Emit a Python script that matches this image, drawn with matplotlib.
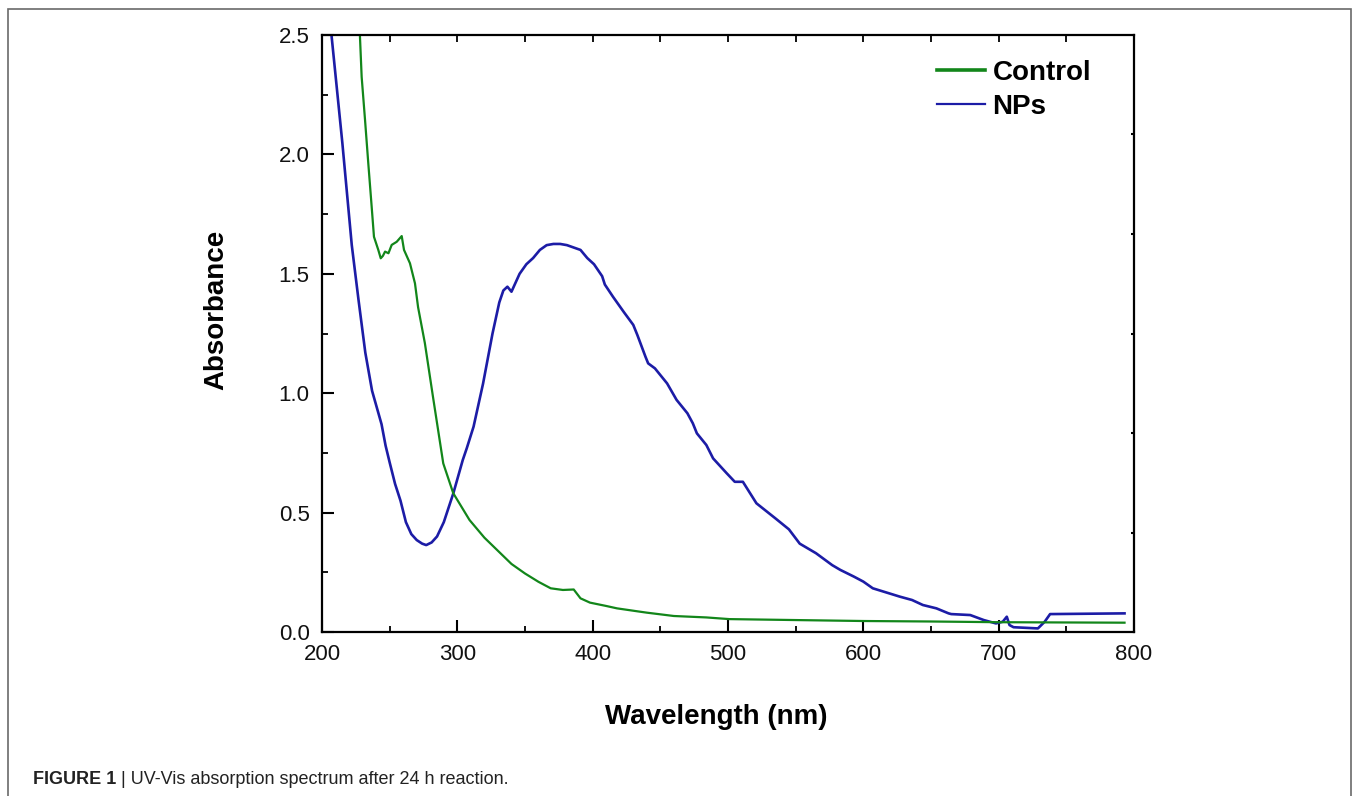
import matplotlib
matplotlib.use("Agg")
import matplotlib.pyplot as plt
from matplotlib.lines import Line2D
from matplotlib.patches import Rectangle
from matplotlib.ticker import MultipleLocator, FixedLocator

# ---------------- data ----------------
nps_wl = [200, 207, 215, 222, 227, 232, 237, 241, 244, 247, 250, 254, 258, 262,
          266, 270, 274, 277, 281, 285, 290, 297, 304, 307, 312, 319, 326, 331,
          334, 337, 340, 346, 351, 356, 361, 366, 371, 376, 381, 386, 391, 396,
          401, 407, 409, 415, 423, 430, 433, 439, 441, 446, 455, 462, 470, 474,
          477, 484, 489, 499, 505, 511, 521, 535, 545, 553, 565, 577, 583, 593,
          600, 607, 615, 627, 636, 644, 654, 663, 665, 679, 689, 698, 703, 706,
          708, 711, 729, 734, 738, 793]
nps_abs = [2.87, 2.50, 2.05, 1.62, 1.39, 1.17, 1.01, 0.93, 0.87, 0.78, 0.71, 0.62,
           0.55, 0.46, 0.41, 0.385, 0.37, 0.364, 0.375, 0.40, 0.46, 0.58, 0.72,
           0.77, 0.86, 1.04, 1.25, 1.38, 1.43, 1.446, 1.425, 1.50, 1.54, 1.566,
           1.60, 1.62, 1.625, 1.625, 1.62, 1.61, 1.60, 1.566, 1.54, 1.49, 1.455,
           1.404, 1.34, 1.286, 1.244, 1.153, 1.125, 1.104, 1.041, 0.972, 0.916,
           0.874, 0.832, 0.783, 0.727, 0.665, 0.629, 0.629, 0.539, 0.476, 0.43,
           0.37, 0.33, 0.28, 0.26, 0.232, 0.211, 0.183, 0.169, 0.148, 0.134,
           0.113, 0.099, 0.078, 0.075, 0.071, 0.050, 0.036, 0.043, 0.064, 0.029,
           0.020, 0.015, 0.043, 0.075, 0.078]

ctrl_wl = [222, 228, 229.3, 231.8, 234.2, 236.7, 238.4, 241.6, 243.4, 245, 246.6,
           249.1, 251.5, 255.2, 258.9, 260.6, 265, 268.7, 271, 276, 282, 289.6,
           297, 309, 320, 330, 340, 350, 360, 369, 378, 386, 391, 398, 410, 418,
           435, 440, 460, 484, 501, 550, 600, 650, 700, 793]
ctrl_abs = [3.3, 2.50, 2.325, 2.144, 1.963, 1.781, 1.655, 1.600, 1.565, 1.575,
            1.593, 1.586, 1.621, 1.634, 1.658, 1.600, 1.544, 1.46, 1.36, 1.21,
            0.985, 0.706, 0.581, 0.469, 0.395, 0.34, 0.285, 0.245, 0.21, 0.183,
            0.176, 0.178, 0.141, 0.123, 0.109, 0.099, 0.085, 0.081, 0.067, 0.061,
            0.054, 0.050, 0.046, 0.044, 0.041, 0.039]

series_labels = ["Control", "NPs"]
x_ticks = [200, 300, 400, 500, 600, 700, 800]
y_ticks = [0.0, 0.5, 1.0, 1.5, 2.0, 2.5]
caption_bold = "FIGURE 1"
caption_rest = " | UV-Vis absorption spectrum after 24 h reaction."

GREEN = "#12861a"
BLUE = "#1c1ca6"

# ---------------- figure ----------------
W, H, DPI = 1358, 796, 100
fig = plt.figure(figsize=(W / DPI, H / DPI), dpi=DPI)
plt.rcParams["font.family"] = ["Liberation Sans", "DejaVu Sans"]

def fx(px):
    return px / W

def fy(py):
    return 1 - py / H

L, R, T, B = 322, 1134, 35, 632
ax = fig.add_axes([fx(L), fy(B), fx(R) - fx(L), fy(T) - fy(B)])

ax.plot(nps_wl, nps_abs, color=BLUE, lw=1.9, solid_joinstyle="round")
ax.plot(ctrl_wl, ctrl_abs, color=GREEN, lw=1.6, solid_joinstyle="round")

ax.set_xlim(200, 800)
ax.set_ylim(0, 2.5)

ax.set_xticks(x_ticks)
ax.set_xticklabels([str(v) for v in x_ticks])
ax.set_yticks(y_ticks)
ax.set_yticklabels([f"{v:.1f}" for v in y_ticks])
ax.xaxis.set_minor_locator(MultipleLocator(50))
ax.yaxis.set_minor_locator(MultipleLocator(0.25))

ax.tick_params(axis="both", which="major", direction="in", length=8.5, width=1.5,
               labelsize=16, colors="black", top=False, right=False)
ax.tick_params(axis="x", which="major", pad=9)
ax.tick_params(axis="y", which="major", pad=9)
ax.tick_params(axis="both", which="minor", direction="in", length=4.3, width=1.3,
               top=False, right=False)
for lab in ax.get_xticklabels() + ax.get_yticklabels():
    lab.set_color("#111111")

for s in ax.spines.values():
    s.set_linewidth(1.6)
    s.set_color("black")

# top and right tick marks (independent, inside)
top = ax.secondary_xaxis("top")
top.xaxis.set_major_locator(FixedLocator(list(range(250, 800, 50))))
top.tick_params(direction="in", length=5, width=1.3, labeltop=False)
top.spines["top"].set_visible(False)

right = ax.secondary_yaxis("right")
right.yaxis.set_major_locator(FixedLocator([2.5 * k / 6 for k in range(1, 6)]))
right.tick_params(direction="in", length=2.5, width=1.5, labelright=False)
right.spines["right"].set_visible(False)

ax.set_xlabel("Wavelength (nm)", fontsize=20, fontweight="bold")
ax.set_ylabel("Absorbance", fontsize=20, fontweight="bold")
ax.xaxis.set_label_coords((716 - L) / (R - L), (B - 704) / (B - T))
ax.yaxis.set_label_coords((229 - L) / (R - L), (B - 310) / (B - T))
ax.xaxis.label.set_va("top")

handles = [Line2D([], [], color=GREEN, lw=2.6), Line2D([], [], color=BLUE, lw=1.6)]
leg = ax.legend(handles, series_labels, loc="upper left",
                bbox_to_anchor=((937 - L) / (R - L), (B - 60) / (B - T)),
                frameon=False, borderpad=0, borderaxespad=0,
                handlelength=1.72, handletextpad=0.28, labelspacing=0.27,
                prop={"size": 20, "weight": "bold"})

# figure border (bottom edge runs off the image)
fig.add_artist(Rectangle((fx(8), fy(800)), fx(1351) - fx(8), fy(9) - fy(800),
                         transform=fig.transFigure, fill=False,
                         edgecolor="#6a6a6a", lw=1.2))

# caption
t1 = fig.text(fx(33), fy(784), caption_bold, fontsize=13, fontweight="bold",
              color="#222222", va="baseline", ha="left")
fig.canvas.draw()
bb = t1.get_window_extent()
fig.text(bb.x1 / W, fy(784), caption_rest, fontsize=13,
         color="#222222", va="baseline", ha="left")

fig.savefig("out.png", dpi=DPI)
